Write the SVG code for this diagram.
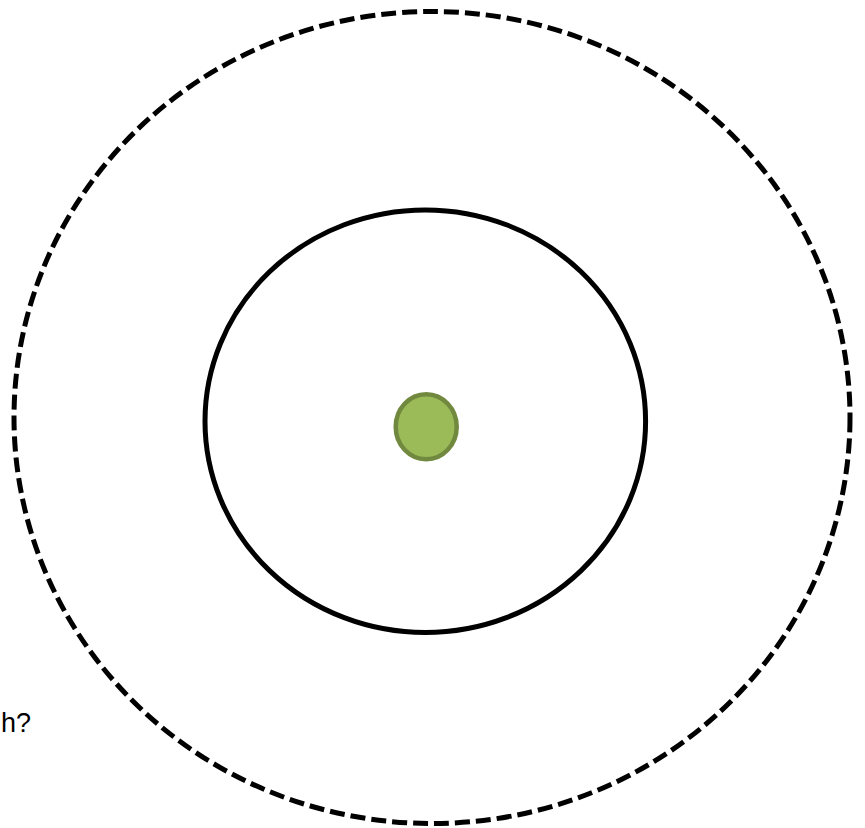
<svg xmlns="http://www.w3.org/2000/svg" width="865" height="828" viewBox="0 0 865 828">
<style>
.ring{fill:none;stroke:#000;stroke-width:5}
.dash{stroke-dasharray:15 6}
.lbl{font-family:"Liberation Sans",Arial,sans-serif;font-size:27px;fill:#000}
</style>
<rect width="865" height="828" fill="#fff"/>
<g id="outer"><ellipse class="ring dash" cx="432" cy="417.5" rx="418" ry="406"/></g>
<g id="inner"><ellipse class="ring" cx="425.3" cy="421.2" rx="220.3" ry="211.3"/></g>
<g id="core"><ellipse cx="426.2" cy="426.7" rx="30.5" ry="32.5" fill="#9BBB59" stroke="#71893F" stroke-width="4.5"/></g>
<g id="label"><text class="lbl" x="31" y="732" text-anchor="end">h?</text></g>
<g id="connectors"/>
</svg>
